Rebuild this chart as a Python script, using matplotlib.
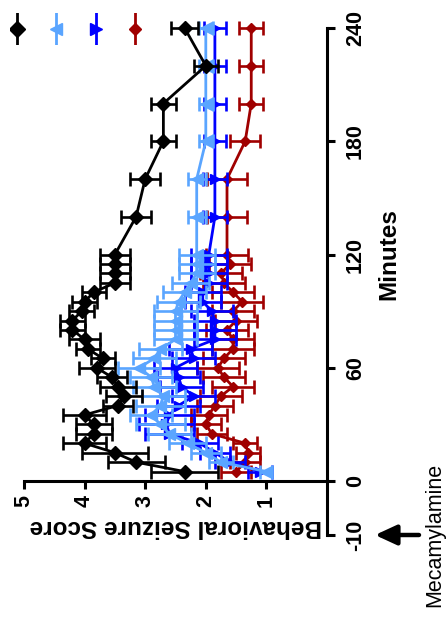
import numpy as np
import matplotlib
matplotlib.use("Agg")
import matplotlib.pyplot as plt
from matplotlib.transforms import blended_transform_factory

plt.rcParams['font.family'] = ['Liberation Sans', 'DejaVu Sans']
plt.rcParams['axes.unicode_minus'] = False

# Sampling times (minutes after seizure induction)
minutes = [5, 10, 15, 20, 25, 30, 35, 40, 45, 50, 55, 60, 65, 70, 75, 80, 85, 90,
           95, 100, 105, 110, 115, 120, 140, 160, 180, 200, 220, 240]

# Mean behavioral seizure score per group
black_mean = [2.35, 3.15, 3.5, 4.0, 3.85, 3.85, 4.0, 3.45, 3.35, 3.45, 3.55, 3.8,
              3.7, 3.95, 4.0, 4.2, 4.2, 4.05, 4.0, 3.85, 3.5, 3.5, 3.5, 3.5,
              3.15, 3.0, 2.7, 2.7, 2.0, 2.35]
black_sem = [0.55, 0.47, 0.55, 0.35, 0.3, 0.3, 0.35, 0.25, 0.3, 0.3, 0.25, 0.3,
             0.2, 0.2, 0.25, 0.2, 0.2, 0.2, 0.2, 0.2, 0.25, 0.25, 0.25, 0.25,
             0.25, 0.25, 0.2, 0.2, 0.2, 0.22]

lightblue_mean = [1.0, 1.75, 2.0, 2.3, 2.6, 2.75, 2.9, 2.75, 2.7, 2.85, 2.9, 3.1,
                  2.85, 2.75, 2.5, 2.5, 2.5, 2.5, 2.45, 2.35, 2.25, 2.15, 2.15, 2.15,
                  2.15, 2.15, 2.0, 2.0, 2.0, 2.0]
lightblue_sem = [0.1, 0.2, 0.25, 0.3, 0.35, 0.4, 0.35, 0.4, 0.35, 0.35, 0.35, 0.35,
                 0.35, 0.35, 0.35, 0.35, 0.35, 0.35, 0.35, 0.35, 0.3, 0.3, 0.3, 0.3,
                 0.15, 0.15, 0.12, 0.12, 0.12, 0.12]

blue_mean = [1.1, 1.6, 1.85, 2.1, 2.6, 2.65, 2.6, 2.45, 2.2, 2.4, 2.45, 2.5,
             2.2, 2.25, 1.85, 1.85, 1.85, 1.9, 2.05, 2.05, 1.95, 1.95, 1.95, 1.95,
             1.85, 1.85, 1.85, 1.85, 1.85, 1.85]
blue_sem = [0.2, 0.25, 0.25, 0.3, 0.4, 0.45, 0.4, 0.35, 0.35, 0.35, 0.35, 0.35,
            0.35, 0.35, 0.35, 0.35, 0.35, 0.35, 0.3, 0.3, 0.3, 0.3, 0.3, 0.3,
            0.2, 0.2, 0.18, 0.18, 0.18, 0.18]

red_mean = [1.5, 1.35, 1.3, 1.35, 1.9, 2.0, 1.95, 1.85, 1.75, 1.55, 1.7, 1.8,
            1.7, 1.55, 1.55, 1.65, 1.5, 1.55, 1.4, 1.55, 1.7, 1.75, 1.6, 1.65,
            1.65, 1.65, 1.35, 1.25, 1.25, 1.25]
red_sem = [0.25, 0.25, 0.2, 0.2, 0.25, 0.25, 0.3, 0.3, 0.35, 0.35, 0.35, 0.35,
           0.35, 0.35, 0.35, 0.35, 0.35, 0.35, 0.35, 0.35, 0.35, 0.35, 0.35, 0.35,
           0.33, 0.33, 0.25, 0.2, 0.2, 0.2]

score_ticks = [1, 2, 3, 4, 5]
minute_ticks = [-10, 0, 60, 120, 180, 240]
injection_time = -10

series = [
    # (mean, sem, color, marker, size, key size, zorder)
    (red_mean, red_sem, '#A00000', 'D', 5.0, 6.0, 2),
    (blue_mean, blue_sem, '#0000FF', '>', 7.5, 8.5, 3),
    (lightblue_mean, lightblue_sem, '#5AA5FF', '<', 8.0, 8.5, 4),
    (black_mean, black_sem, '#000000', 'D', 7.3, 8.3, 5),
]

W, H = 446, 618
fig = plt.figure(figsize=(W / 100, H / 100), dpi=100)

# Plot rotated: score runs horizontally (reversed), time runs upward
ax_l, ax_r, ax_t, ax_b = 24, 327, 28, 535
ax = fig.add_axes([ax_l / W, 1 - ax_b / H, (ax_r - ax_l) / W, (ax_b - ax_t) / H])

# Pre-injection segment of the time axis gets its own stretched section
k = 2.86
def fwd(y):
    y = np.asarray(y, dtype=float)
    return np.where(y < 0, y * k, y)
def inv(u):
    u = np.asarray(u, dtype=float)
    return np.where(u < 0, u / k, u)
ax.set_yscale('function', functions=(fwd, inv))

for mean, sem, color, marker, ms, _, z in series:
    ax.errorbar(mean, minutes, xerr=sem, color=color, marker=marker, ms=ms,
                mec=color, mfc=color, lw=2.0, elinewidth=1.9, capsize=4.7,
                capthick=1.9, zorder=z, clip_on=False)

ax.set_xlim(5, 0)
ax.set_ylim(-10, 240)

for s in ('left', 'top'):
    ax.spines[s].set_visible(False)
ax.spines['bottom'].set_position(('data', 0))
ax.spines['bottom'].set_bounds(0, 5)
ax.spines['right'].set_bounds(-10, 240)
for s in ('bottom', 'right'):
    ax.spines[s].set_linewidth(2.2)

ax.yaxis.tick_right()
ax.set_xticks(score_ticks)
ax.set_yticks(minute_ticks)
ax.set_yticks([], minor=True)
ax.tick_params(axis='both', direction='out', length=6, width=2.2, labelsize=15.5)
ax.tick_params(axis='x', pad=4)
ax.tick_params(axis='y', pad=7)
for lab in ax.get_xticklabels():
    lab.set_rotation(90)
    lab.set_fontweight('bold')
    lab.set_va('top')
    lab.set_ha('center')
for lab in ax.get_yticklabels():
    lab.set_rotation(90)
    lab.set_fontweight('bold')
    lab.set_va('center')
    lab.set_ha('left')

ax.set_xlabel('Behavioral Seizure Score', fontsize=17.5, fontweight='bold',
              rotation=180, labelpad=6)

bt = blended_transform_factory(ax.transAxes, ax.transData)
ax.text((389 - ax_l) / (ax_r - ax_l), 120, 'Minutes', transform=bt, rotation=90,
        ha='center', va='center', fontsize=17.5, fontweight='bold')

# Injection marker
ax.annotate('', xy=((375 - ax_l) / (ax_r - ax_l), injection_time),
            xytext=((419 - ax_l) / (ax_r - ax_l), injection_time),
            xycoords=bt, textcoords=bt, annotation_clip=False,
            arrowprops=dict(arrowstyle='-|>,head_length=0.65,head_width=0.3',
                            lw=3.2, color='black', shrinkA=0, shrinkB=0,
                            mutation_scale=20))
ax.text((435 - ax_l) / (ax_r - ax_l), injection_time, 'Mecamylamine', transform=bt,
        rotation=90, ha='center', va='center', fontsize=15.5, clip_on=False)

# Group key along the top edge
kx_l, kx_r, ky_t, ky_b = 10, 142, 13, 45
kax = fig.add_axes([kx_l / W, 1 - ky_b / H, (kx_r - kx_l) / W, (ky_b - ky_t) / H])
kax.set_xlim(-0.18, 3.18)
kax.set_ylim(0, 1)
kax.axis('off')
for i, (mean, sem, color, marker, _, kms, z) in enumerate(reversed(series)):
    kax.plot([i, i], [0, 1], color=color, lw=2.0)
    kax.plot([i], [0.5], marker=marker, ms=kms, color=color, mec=color)

fig.savefig('out.png', dpi=100)
